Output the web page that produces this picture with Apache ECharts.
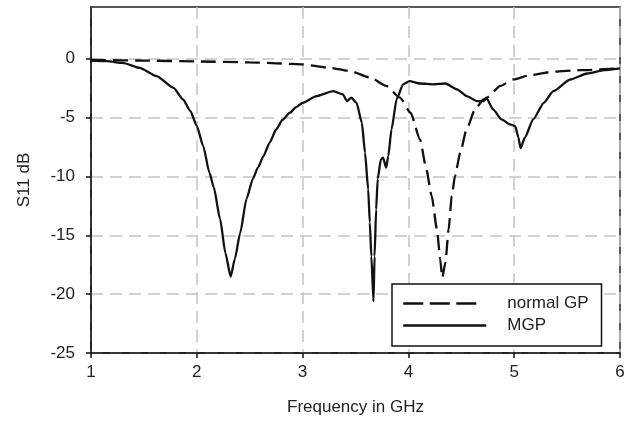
<!DOCTYPE html>
<html>
<head>
<meta charset="utf-8">
<script src="https://cdn.jsdelivr.net/npm/echarts@6/dist/echarts.min.js"></script>
<style>html,body{margin:0;padding:0;background:#fff;}#c{width:630px;height:421px;}</style>
</head>
<body>
<div id="c"></div>
<script>
var mgpFreq = [1.00,1.15,1.30,1.46,1.62,1.78,1.87,1.94,2.00,2.06,2.12,2.16,2.22,2.27,2.32,2.36,2.41,2.47,2.53,2.58,2.63,2.69,2.75,2.81,2.88,2.94,3.00,3.13,3.29,3.38,3.42,3.46,3.51,3.56,3.59,3.62,3.635,3.65,3.67,3.68,3.695,3.71,3.74,3.76,3.79,3.81,3.84,3.89,3.95,4.01,4.11,4.24,4.35,4.46,4.55,4.65,4.71,4.74,4.80,4.88,4.96,5.01,5.04,5.06,5.10,5.18,5.28,5.37,5.53,5.69,5.85,6.00];
var mgpS11 = [-0.15,-0.2,-0.35,-0.77,-1.47,-2.47,-3.46,-4.45,-5.7,-7.4,-9.7,-10.9,-13.6,-16.5,-18.5,-17.0,-14.8,-11.9,-10.2,-9.2,-8.27,-7.1,-6.0,-5.2,-4.58,-4.1,-3.74,-3.17,-2.75,-3.03,-3.6,-3.3,-3.74,-5.43,-7.98,-11.1,-13.9,-16.8,-20.6,-16.8,-12.8,-10.2,-8.55,-8.4,-9.25,-8.27,-6.0,-3.4,-2.18,-1.9,-2.1,-2.18,-2.1,-2.6,-3.17,-3.6,-3.6,-3.37,-4.3,-5.15,-5.58,-5.72,-6.7,-7.6,-6.7,-5.15,-3.74,-2.75,-1.76,-1.25,-0.97,-0.82];
var gpFreq = [1.00,1.5,2.0,2.5,2.8,3.0,3.26,3.45,3.64,3.79,3.92,4.02,4.11,4.17,4.22,4.27,4.30,4.32,4.35,4.38,4.41,4.44,4.49,4.55,4.63,4.71,4.74,4.87,4.99,5.15,5.37,5.62,6.00];
var gpS11 = [-0.1,-0.15,-0.23,-0.3,-0.4,-0.48,-0.77,-1.05,-1.6,-2.3,-3.3,-4.58,-6.85,-9.4,-11.66,-14.5,-17.0,-18.6,-17.3,-14.5,-11.66,-9.97,-7.98,-6.0,-4.3,-3.46,-3.3,-2.3,-1.76,-1.39,-1.1,-0.97,-0.82];
var xTicks = [1,2,3,4,5,6];
var yTicks = [-25,-20,-15,-10,-5,0];
var seriesNames = ['normal GP','MGP'];

function pairs(xs, ys){ return xs.map(function(x,i){ return [x, ys[i]]; }); }

var font = 'Liberation Sans, Arial, sans-serif';
var chart = echarts.init(document.getElementById('c'), null, {renderer:'canvas'});
chart.setOption({
  animation:false,
  backgroundColor:'#fff',
  grid:{left:91, right:10, top:7, bottom:68, show:true, borderColor:'#222', borderWidth:1.5, containLabel:false},
  xAxis:{type:'value', min:1, max:6, interval:1,
    name:'Frequency in GHz', nameLocation:'middle', nameGap:46,
    nameTextStyle:{fontFamily:font, fontSize:17, color:'#222'},
    axisLine:{onZero:false, lineStyle:{color:'#111', width:1.5}},
    axisTick:{show:true, length:5, lineStyle:{color:'#111', width:1.5}},
    axisLabel:{fontFamily:font, fontSize:17, color:'#222', margin:11, customValues:xTicks},
    splitLine:{show:true, lineStyle:{color:'#c4c4c4', width:1.5, type:[12,7]}}
  },
  yAxis:{type:'value', min:-25, max:4.4, interval:5,
    name:'S11 dB', nameLocation:'middle', nameGap:58,
    nameTextStyle:{fontFamily:font, fontSize:17, color:'#222'},
    axisLine:{onZero:false, lineStyle:{color:'#111', width:1.5}},
    axisTick:{show:true, length:5, lineStyle:{color:'#111', width:1.5}, customValues:yTicks},
    axisLabel:{fontFamily:font, fontSize:17, color:'#222', margin:16, customValues:yTicks},
    splitLine:{show:true, lineStyle:{color:'#c4c4c4', width:1.5, type:[12,7]}}
  },
  legend:{show:true, orient:'vertical', left:392, top:284,
    data:[
      {name:seriesNames[0], lineStyle:{type:[20,6.5,20,6.5,20,15], width:2.5}},
      {name:seriesNames[1], lineStyle:{width:2.5}}
    ],
    itemWidth:83, itemHeight:14, itemGap:5,
    padding:[11,13,12,10],
    borderColor:'#111', borderWidth:1.5, backgroundColor:'#fff',
    itemStyle:{opacity:0},
    textStyle:{fontFamily:font, fontSize:17, color:'#222', padding:[0,0,0,16]}
  },
  series:[
    {name:seriesNames[0], type:'line', data:pairs(gpFreq, gpS11), showSymbol:false, symbol:'none',
      smooth:0.2, smoothMonotone:'x',
      lineStyle:{color:'#111', width:2.3, type:[15,7]}, itemStyle:{color:'#111'}},
    {name:seriesNames[1], type:'line', data:pairs(mgpFreq, mgpS11), showSymbol:false, symbol:'none',
      smooth:0.2, smoothMonotone:'x',
      lineStyle:{color:'#111', width:2.3}, itemStyle:{color:'#111'}}
  ]
});
</script>
</body>
</html>
